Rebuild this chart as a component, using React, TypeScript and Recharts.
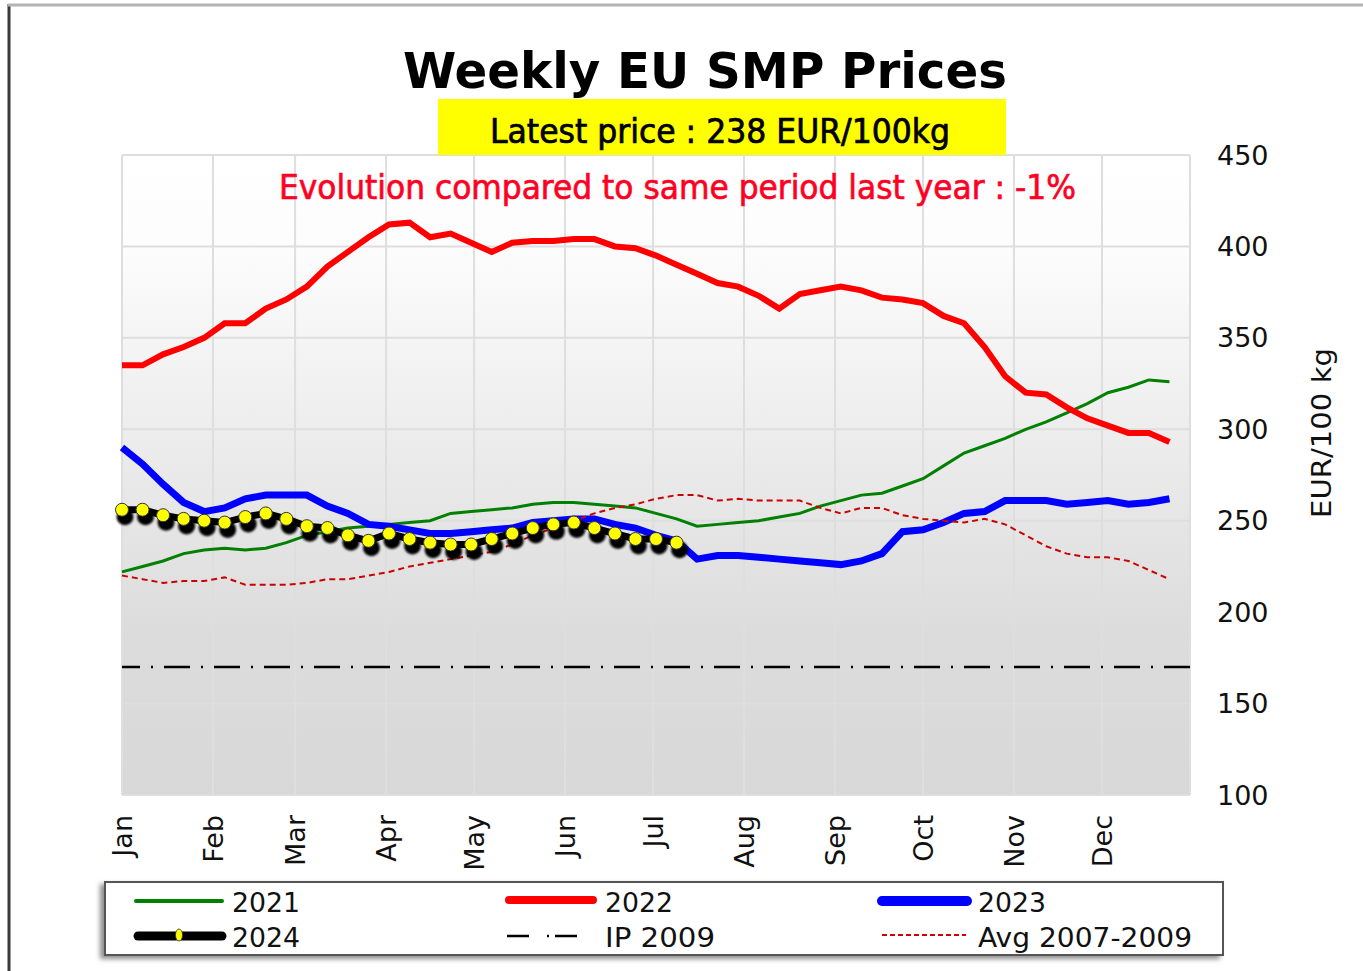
import React from "react";
import { CartesianGrid, Line, LineChart, ReferenceLine, XAxis, YAxis } from "recharts";

// x axis: day of year, one point per week
const monthLabels = ["Jan", "Feb", "Mar", "Apr", "May", "Jun", "Jul", "Aug", "Sep", "Oct", "Nov", "Dec"];
const monthStartDays = [0, 31, 59, 90, 120, 151, 181, 212, 243, 273, 304, 334];
const yTicks = [100, 150, 200, 250, 300, 350, 400, 450];

// EUR/100 kg, weekly
const prices2021 = [
  222, 225, 228, 232, 234, 235, 234, 235, 238, 242, 244, 246, 247, 248, 249, 250, 254, 255, 256, 257,
  259, 260, 260, 259, 258, 257, 254, 251, 247, 248, 249, 250, 252, 254, 258, 261, 264, 265, 269, 273,
  280, 287, 291, 295, 300, 304, 309, 314, 320, 323, 327, 326,
];
const prices2022 = [
  335, 335, 341, 345, 350, 358, 358, 366, 371, 378, 389, 397, 405, 412, 413, 405, 407, 402, 397, 402,
  403, 403, 404, 404, 400, 399, 395, 390, 385, 380, 378, 373, 366, 374, 376, 378, 376, 372, 371, 369,
  362, 358, 345, 329, 320, 319, 312, 306, 302, 298, 298, 293,
];
const prices2023 = [
  290, 281, 270, 260, 255, 257, 262, 264, 264, 264, 258, 254, 248, 247, 245, 243, 243, 244, 245, 246,
  249, 250, 251, 251, 248, 246, 242, 239, 229, 231, 231, 230, 229, 228, 227, 226, 228, 232, 244, 245,
  249, 254, 255, 261, 261, 261, 259, 260, 261, 259, 260, 262,
];
const prices2024 = [
  256, 256, 253, 251, 250, 249, 252, 254, 251, 247, 246, 242, 239, 243, 240, 238, 237, 237, 240, 243,
  246, 248, 249, 246, 243, 240, 240, 238,
];
const avg2007to2009 = [
  220, 218, 216, 217, 217, 219, 215, 215, 215, 216, 218, 218, 220, 222, 225, 227, 229, 231, 233, 237,
  242, 246, 250, 254, 257, 259, 262, 264, 264, 261, 262, 261, 261, 261, 257, 254, 257, 257, 253, 251,
  250, 249, 251, 248, 242, 236, 232, 230, 230, 228, 223, 218,
];
const ip2009 = 170;
const latestPrice = 238;
const changeVsLastYear = -1;

const data = prices2022.map((_, i) => ({
  day: i * 7,
  y2021: prices2021[i],
  y2022: prices2022[i],
  y2023: prices2023[i],
  y2024: i < prices2024.length ? prices2024[i] : null,
  avg: avg2007to2009[i],
}));

const FONT = "'DejaVu Sans', Verdana, sans-serif";
const NARROW = "'DejaVu Sans Condensed', 'DejaVu Sans', sans-serif";

const MonthTick = (props: any) => {
  const { x, y, payload } = props;
  const idx = monthStartDays.indexOf(payload.value);
  return (
    <text
      transform={`translate(${x},${y}) rotate(-90)`}
      dy="0.36em"
      textAnchor="end"
      fontFamily={FONT}
      fontSize={27}
      fill="#111"
    >
      {monthLabels[idx]}
    </text>
  );
};

const YellowDot = (props: any) => {
  const { cx, cy, index } = props;
  if (cx == null || cy == null) return null;
  return (
    <g key={`d${index}`}>
      <circle cx={cx + 3} cy={cy + 7} r={8.5} fill="#000" filter="url(#dotBlur)" />
      <circle cx={cx} cy={cy} r={6.5} fill="#ffff00" stroke="#333" strokeWidth={1} />
    </g>
  );
};

const AxisTitle = (props: any) => {
  const { viewBox } = props;
  const x = viewBox.x + 132;
  const y = viewBox.y + viewBox.height / 2 - 42;
  return (
    <text
      transform={`translate(${x},${y}) rotate(-90)`}
      textAnchor="middle"
      dy="0.36em"
      fontFamily={FONT}
      fontSize={26}
      textLength={170}
      lengthAdjust="spacingAndGlyphs"
      fill="#111"
    >
      EUR/100 kg
    </text>
  );
};

const Header = () => (
  <svg width={1363} height={971} style={{ position: "absolute", left: 0, top: 0, pointerEvents: "none" }}>
    <defs>
      <filter id="legendShadow" x="-5%" y="-30%" width="110%" height="160%">
        <feDropShadow dx={-4} dy={3} stdDeviation={2.5} floodColor="#000" floodOpacity={0.45} />
      </filter>
    </defs>
    <line x1={9} y1={4} x2={9} y2={971} stroke="#3a3a3a" strokeWidth={3} />
    <line x1={8} y1={5} x2={1363} y2={5} stroke="#b4b4b4" strokeWidth={3} />
    <text
      x={705}
      y={88}
      textAnchor="middle"
      fontFamily={FONT}
      fontWeight="bold"
      fontSize={50}
      textLength={604}
      lengthAdjust="spacingAndGlyphs"
      fill="#000"
    >
      Weekly EU SMP Prices
    </text>
    <rect x={438} y={99} width={568} height={56} fill="#ffff00" />
    <text
      x={720}
      y={143}
      textAnchor="middle"
      fontFamily={NARROW}
      fontSize={34}
      textLength={460}
      lengthAdjust="spacingAndGlyphs"
      fill="#000"
      stroke="#000"
      strokeWidth={0.7}
    >
      {`Latest price : ${latestPrice} EUR/100kg`}
    </text>
    <text
      x={677.5}
      y={199}
      textAnchor="middle"
      fontFamily={NARROW}
      fontSize={33}
      textLength={797}
      lengthAdjust="spacingAndGlyphs"
      fill="#ff0022"
      stroke="#ff0022"
      strokeWidth={0.6}
    >
      {`Evolution compared to same period last year : ${changeVsLastYear}%`}
    </text>

    {/* legend */}
    <rect x={105} y={882} width={1118} height={73} fill="#fff" stroke="#555" strokeWidth={2} filter="url(#legendShadow)" />
    <g fontFamily={FONT} fontSize={26} fill="#111">
      <line x1={136} y1={901} x2={222} y2={901} stroke="#008000" strokeWidth={4} strokeLinecap="round" />
      <text x={232} y={912} textLength={68} lengthAdjust="spacingAndGlyphs">2021</text>
      <line x1={509} y1={900} x2={593} y2={900} stroke="#ff0000" strokeWidth={8} strokeLinecap="round" />
      <text x={605} y={912} textLength={68} lengthAdjust="spacingAndGlyphs">2022</text>
      <line x1={882} y1={901} x2={967} y2={901} stroke="#0000ff" strokeWidth={10} strokeLinecap="round" />
      <text x={978} y={912} textLength={68} lengthAdjust="spacingAndGlyphs">2023</text>

      <line x1={138} y1={936} x2={222} y2={936} stroke="#000" strokeWidth={9} strokeLinecap="round" />
      <ellipse cx={179} cy={935} rx={3.5} ry={6} fill="#ffff00" stroke="#333" strokeWidth={0.8} />
      <text x={232} y={947} textLength={68} lengthAdjust="spacingAndGlyphs">2024</text>
      <line x1={507} y1={936} x2={583} y2={936} stroke="#000" strokeWidth={2.5} strokeDasharray="22 18 2 6" />
      <text x={605} y={947} textLength={110} lengthAdjust="spacingAndGlyphs">IP 2009</text>
      <line x1={882} y1={935} x2={966} y2={935} stroke="#cc0000" strokeWidth={2} strokeDasharray="5 3" />
      <text x={978} y={947} textLength={214} lengthAdjust="spacingAndGlyphs">Avg 2007-2009</text>
    </g>
  </svg>
);

export default function App() {
  return (
    <div style={{ position: "absolute", left: 0, top: 0, width: 1363, height: 971, background: "#fff" }}>
      <LineChart
        width={1363}
        height={971}
        data={data}
        margin={{ top: 155, right: 63, bottom: 96, left: 122 }}
      >
        <defs>
          <linearGradient id="plotBg" x1="0" y1="0" x2="0" y2="1">
            <stop offset="0%" stopColor="#ffffff" />
            <stop offset="15%" stopColor="#fcfcfc" />
            <stop offset="75%" stopColor="#dcdcdc" />
            <stop offset="100%" stopColor="#d8d8d8" />
          </linearGradient>
          <filter id="dotBlur" x="-50%" y="-50%" width="200%" height="200%">
            <feGaussianBlur stdDeviation={1.2} />
          </filter>
        </defs>
        <CartesianGrid stroke="#dedede" strokeWidth={2} fill="url(#plotBg)" fillOpacity={1} />
        <XAxis
          dataKey="day"
          type="number"
          domain={[0, 364]}
          ticks={monthStartDays}
          interval={0}
          axisLine={false}
          tickLine={false}
          tickSize={0}
          tickMargin={20}
          height={80}
          tick={<MonthTick />}
        />
        <YAxis
          orientation="right"
          type="number"
          domain={[100, 450]}
          ticks={yTicks}
          interval={0}
          axisLine={false}
          tickLine={false}
          tickSize={0}
          tickMargin={27}
          width={110}
          tick={{ fontFamily: FONT, fontSize: 27, fill: "#111" }}
          label={<AxisTitle />}
        />
        <ReferenceLine y={ip2009} stroke="#000" strokeWidth={2.5} strokeDasharray="26 11 2 11" />
        <Line dataKey="y2021" stroke="#008000" strokeWidth={3} dot={false} isAnimationActive={false} type="linear" />
        <Line dataKey="y2022" stroke="#ff0000" strokeWidth={6} dot={false} isAnimationActive={false} type="linear" />
        <Line dataKey="y2023" stroke="#0000ff" strokeWidth={7} dot={false} isAnimationActive={false} type="linear" />
        <Line
          dataKey="avg"
          stroke="#cc0000"
          strokeWidth={2}
          strokeDasharray="6 4"
          dot={false}
          isAnimationActive={false}
          type="linear"
        />
        <Line
          dataKey="y2024"
          stroke="#000"
          strokeWidth={7}
          dot={<YellowDot />}
          isAnimationActive={false}
          type="linear"
          connectNulls={false}
        />
      </LineChart>
      <Header />
    </div>
  );
}
